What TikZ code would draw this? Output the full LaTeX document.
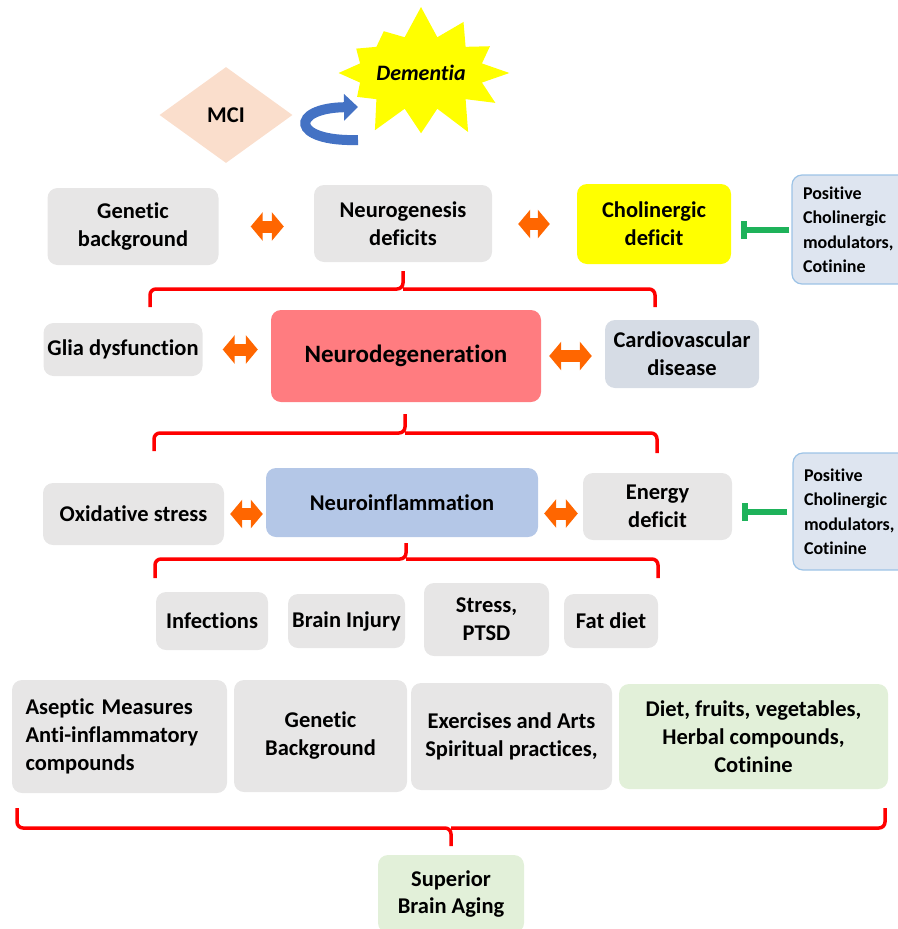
\documentclass[tikz,border=0pt]{standalone}
\usepackage{fontspec}
\setmainfont{Carlito}[Ligatures=NoCommon]
\usetikzlibrary{arrows.meta, shapes, calc}

\definecolor{boxgray}{RGB}{231,230,230}
\definecolor{boxyellow}{RGB}{255,255,0}
\definecolor{boxsalmon}{RGB}{255,124,128}
\definecolor{boxblue}{RGB}{180,199,231}
\definecolor{boxslate}{RGB}{214,220,229}
\definecolor{boxgreen}{RGB}{226,240,217}
\definecolor{boxpeach}{RGB}{250,222,204}
\definecolor{modfill}{RGB}{222,229,240}
\definecolor{moddraw}{RGB}{157,195,230}
\definecolor{linkorange}{RGB}{255,102,0}
\definecolor{blockgreen}{RGB}{30,178,90}
\definecolor{turnblue}{RGB}{68,114,196}

\begin{document}
\begin{tikzpicture}[x=1pt, y=-1pt, align=center, font=\bfseries\fontsize{22.5}{28}\selectfont,
  box/.style={fill=boxgray, rounded corners=10pt, inner sep=0pt},
  modbox/.style={box, fill=modfill, draw=moddraw, line width=1.2pt, align=left,
    text width=98pt, inner xsep=11pt, font=\bfseries\fontsize{18}{24.5}\selectfont},
  link/.style={draw=linkorange, line width=12pt,
    {Triangle[width=28pt,length=12pt]}-{Triangle[width=28pt,length=12pt]}},
  block/.style={draw=blockgreen, line width=6pt, -{Bar[width=18pt]}},
  bracket/.style={draw=red, line width=3.5pt, rounded corners=6pt}]
\useasboundingbox (0,0) rectangle (897,929);

\node[diamond, fill=boxpeach, minimum width=133pt, minimum height=96pt, inner sep=0pt] (mci) at (226,115) {MCI};
\node[starburst, fill=boxyellow, starburst points=12, starburst point height=32pt, random starburst=7,
  minimum width=172pt, minimum height=138pt, inner sep=0pt, font=\bfseries\itshape\fontsize{22}{27}\selectfont]
  (dementia) at (421,73) {Dementia};
\coordinate (turn-start) at (358,140);
\coordinate (turn-end) at (358,107);
\draw[turnblue, line width=10pt, -{Triangle[width=26pt,length=14pt]}]
  (turn-start) .. controls (290,142) and (290,108) .. (turn-end);

\node[box, minimum width=171pt, minimum height=77pt] (gen) at (133,226.5) {Genetic\\background};
\node[box, minimum width=178pt, minimum height=77pt] (neurog) at (403,223.5) {Neurogenesis\\deficits};
\node[box, fill=boxyellow, minimum width=154pt, minimum height=80pt] (chol) at (654,224) {Cholinergic\\deficit};
\node[modbox, minimum height=109pt] (mod1) at (852,229.5) {Positive\\Cholinergic\\modulators,\\Cotinine};

\node[box, minimum width=159pt, minimum height=53pt] (glia) at (123,349.5) {Glia dysfunction};
\node[box, fill=boxsalmon, minimum width=270pt, minimum height=92pt,
  font=\bfseries\fontsize{25}{30}\selectfont] (neuro) at (406,356) {Neurodegeneration};
\node[box, fill=boxslate, minimum width=154pt, minimum height=68pt] (cardio) at (682,354) {Cardiovascular\\disease};

\node[box, minimum width=181pt, minimum height=62pt] (oxid) at (133.5,514) {Oxidative stress};
\node[box, fill=boxblue, minimum width=272pt, minimum height=69pt] (ninfl) at (402,502.5) {Neuroinflammation};
\node[box, minimum width=149pt, minimum height=67pt] (energy) at (657.5,506.5) {Energy\\deficit};
\node[modbox, minimum height=117pt] (mod2) at (853,511.5) {Positive\\Cholinergic\\modulators,\\Cotinine};

\node[box, minimum width=112pt, minimum height=58pt] (infect) at (212,621) {Infections};
\node[box, minimum width=117pt, minimum height=54pt] (injury) at (346.5,621) {Brain Injury};
\node[box, minimum width=125pt, minimum height=73pt] (stress) at (486.5,619.5) {Stress,\\PTSD};
\node[box, minimum width=94pt, minimum height=54pt] (fat) at (611,621) {Fat diet};

\node[box, minimum width=215pt, minimum height=113pt, align=left, text width=188pt] (aseptic) at (119.5,736.5)
  {Aseptic Measures\\Anti-inflammatory\\compounds};
\node[box, minimum width=173pt, minimum height=112pt] (genbg) at (320.5,736) {Genetic\\Background};
\node[box, minimum width=201pt, minimum height=107pt] (exerc) at (511.5,736.5) {Exercises and Arts\\Spiritual practices,};
\node[box, fill=boxgreen, minimum width=269pt, minimum height=105pt] (diet) at (753.5,736.5)
  {Diet, fruits, vegetables,\\Herbal compounds,\\Cotinine};

\node[box, fill=boxgreen, minimum width=146pt, minimum height=78pt] (superior) at (451,894) {Superior\\Brain Aging};

\draw[link, shorten <=32pt, shorten >=30pt] (gen.east) -- (gen.east -| neurog.west);
\draw[link, shorten <=26pt, shorten >=27pt] (neurog.east |- chol.west) -- (chol.west);
\draw[link, shorten <=20pt, shorten >=13pt] (glia.east) -- (glia.east -| neuro.west);
\draw[link, shorten <=8pt, shorten >=13pt] (neuro.east) -- (neuro.east -| cardio.west);
\draw[link, shorten <=6pt, shorten >=3pt] (oxid.east) -- (oxid.east -| ninfl.west);
\draw[link, shorten <=6pt, shorten >=5pt] ($(energy.west -| ninfl.east)+(0,7)$) -- ($(energy.west)+(0,7)$);

\draw[block, shorten <=2pt, shorten >=10pt] (mod1.west) -- (mod1.west -| chol.east);
\draw[block, shorten <=5pt, shorten >=10pt] (mod2.west) -- (mod2.west -| energy.east);

\draw[bracket] (150,307) |- (403,289) -- (403,271) (403,289) -| (655,307);
\draw[bracket] (154,451) |- (405,433) -- (405,414) (405,433) -| (657,453);
\draw[bracket] (155,578) |- (406,559) -- (406,543) (406,559) -| (658,578);
\draw[bracket] (17,808) |- (451,828) -- (451,846) (451,828) -| (885,808);
\end{tikzpicture}
\end{document}
